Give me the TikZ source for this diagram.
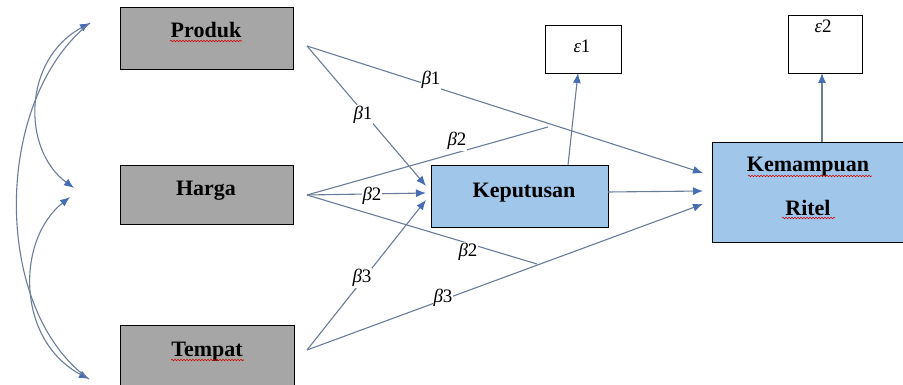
\documentclass[tikz,border=0pt]{standalone}
\usepackage{fontspec}
\setmainfont{Liberation Serif}
\usetikzlibrary{arrows.meta,decorations.pathmorphing}
\definecolor{lineC}{RGB}{105,125,155}
\definecolor{tipC}{RGB}{70,110,180}
\definecolor{grayF}{RGB}{166,166,166}
\definecolor{blueF}{RGB}{160,198,234}
\begin{document}
\begin{tikzpicture}[x=1pt,y=-1pt,
  box/.style={draw=black,line width=1.3pt,anchor=north west,inner sep=0pt},
  graybox/.style={box,fill=grayF},
  bluebox/.style={box,fill=blueF},
  errbox/.style={box,fill=white,line width=1pt},
  title/.style={anchor=base,inner sep=0pt,font=\fontsize{22}{25}\selectfont\bfseries},
  coef/.style={fill=white,inner sep=1pt,font=\fontsize{19}{21}\selectfont},
  errlbl/.style={anchor=base,inner sep=0pt,font=\fontsize{19}{21}\selectfont},
  conn/.style={draw=lineC,line width=1.1pt},
  arr/.style={conn,-{Latex[length=10pt,width=8pt,color=tipC]}},
  darr/.style={conn,{Latex[length=10pt,width=8pt,color=tipC]}-{Latex[length=10pt,width=8pt,color=tipC]}},
  squig/.style={draw=red!85!black,line width=0.6pt,decorate,decoration={snake,amplitude=0.7pt,segment length=3pt}}
]
\useasboundingbox (0,0) rectangle (903,385);
\clip (0,0) rectangle (903,385);
\fill[white] (0,0) rectangle (903,385);

% boxes
\node[graybox,minimum width=173pt,minimum height=62pt] (prod) at (120,7) {};
\node[graybox,minimum width=173pt,minimum height=59pt] (harga) at (120,165) {};
\node[graybox,minimum width=174pt,minimum height=62pt] (tempat) at (120,325) {};
\node[bluebox,minimum width=177pt,minimum height=62pt] (kep) at (431,165) {};
\node[bluebox,minimum width=192pt,minimum height=100pt] (kem) at (712,142) {};
\node[errbox,minimum width=76pt,minimum height=48pt] (e1) at (545,25) {};
\node[errbox,minimum width=74pt,minimum height=58pt] (e2) at (788,15) {};

% texts
\node[title] (tprod) at (206,38) {Produk};
\node[title] (tharga) at (206,196) {Harga};
\node[title] (ttempat) at (207,356) {Tempat};
\node[title] (tkep) at (524,197) {Keputusan};
\node[title] (tkem) at (808,172) {Kemampuan};
\node[title] (tritel) at (808,215) {Ritel};
\node[errlbl] (te1) at (582,53) {{\itshape ε}1};
\node[errlbl] (te2) at (823,33) {{\itshape ε}2};

% spelling underlines
\draw[squig] (170,41) -- (242,41);
\draw[squig] (171,360) -- (244,360);
\draw[squig] (748,176) -- (872,176);
\draw[squig] (782,218) -- (835,218);

% connector end points
\coordinate (pS) at (307,46);
\coordinate (hS) at (307,195);
\coordinate (tS) at (307,350);
\coordinate (kepT1) at (426,186);
\coordinate (kepT2) at (426,193);
\coordinate (kepT3) at (426,200);
\coordinate (kemT1) at (703,173);
\coordinate (kemT2) at (703,191);
\coordinate (kemT3) at (703,204);
\coordinate (kepR) at (608,192);
\coordinate (kepN) at (568,165);
\coordinate (e1B) at (578,73);
\coordinate (kemN) at (822,142);
\coordinate (e2B) at (822,73);
\coordinate (j1) at (548,127);
\coordinate (j2) at (537,264);
\coordinate (lA) at (90,23);
\coordinate (lB) at (74,188);
\coordinate (lC) at (70,197);
\coordinate (lD) at (89,379);

% connectors
\draw[arr] (pS) -- (kepT1);
\draw[arr] (pS) -- (kemT1);
\draw[arr] (hS) -- (kepT2);
\draw[conn] (hS) -- (j1);
\draw[conn] (hS) -- (j2);
\draw[arr] (tS) -- (kepT3);
\draw[arr] (tS) -- (kemT3);
\draw[arr] (kepR) -- (kemT2);
\draw[arr] (kepN) -- (e1B);
\draw[arr] (kemN) -- (e2B);

% correlations
\draw[darr] (lA) .. controls (22,60) and (22,150) .. (lB);
\draw[darr] (lC) .. controls (16,240) and (16,340) .. (lD);
\draw[conn] (lA) .. controls (-8,100) and (-8,310) .. (lD);

% coefficient labels
\node[coef] (b1a) at (363,115) {{\itshape β}1};
\node[coef] (b1b) at (431,80) {{\itshape β}1};
\node[coef] (b2a) at (372,196) {{\itshape β}2};
\node[coef] (b2b) at (457,141) {{\itshape β}2};
\node[coef] (b2c) at (468,252) {{\itshape β}2};
\node[coef] (b3a) at (362,278) {{\itshape β}3};
\node[coef] (b3b) at (443,298) {{\itshape β}3};
\end{tikzpicture}
\end{document}
